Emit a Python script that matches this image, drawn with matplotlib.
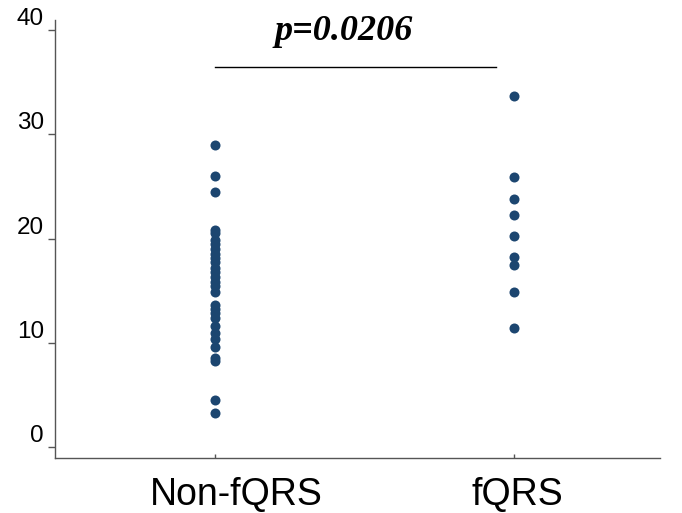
import numpy as np
import matplotlib.pyplot as plt

groups = ['Non-fQRS', 'fQRS']
non_fqrs = [29.0, 26.0, 24.5, 20.8, 20.5, 19.9, 19.5, 19.0, 18.5, 18.1, 17.7,
            17.2, 16.8, 16.3, 15.8, 15.4, 14.9, 13.6, 13.2, 12.8, 12.4, 11.6,
            10.9, 10.3, 9.6, 8.5, 8.2, 4.5, 3.2]
fqrs = [33.7, 25.9, 23.8, 22.3, 20.2, 18.2, 17.5, 14.9, 11.4]
p_text = 'p=0.0206'

fig = plt.figure(figsize=(6.82, 5.13), dpi=100)
ax = fig.add_axes([0.0806, 0.107, 0.887, 0.854])

dot = '#1c4670'
ax.scatter(np.full(len(non_fqrs), 1.0), non_fqrs, s=52, color=dot, zorder=3, linewidths=0)
ax.scatter(np.full(len(fqrs), 2.0), fqrs, s=52, color=dot, zorder=3, linewidths=0)

ax.set_xlim(0.463, 2.49)
ax.set_ylim(-1.1, 41.0)

# significance bar
ax.plot([1.0, 1.94], [36.5, 36.5], color='black', lw=1)
ax.text(1.43, 39.9, p_text, ha='center', va='center', fontsize=26,
        family='Liberation Serif', weight='bold', style='italic', clip_on=False)

for s in ['top', 'right']:
    ax.spines[s].set_visible(False)
for s in ['left', 'bottom']:
    ax.spines[s].set_color('#555555')
    ax.spines[s].set_linewidth(1)

ax.set_yticks([0, 10, 20, 30, 40])
ax.tick_params(axis='y', direction='out', length=5, width=1, color='#555555',
               pad=3, labelsize=17.5)
for lab in ax.get_yticklabels():
    lab.set_family('Liberation Sans')
    lab.set_verticalalignment('bottom')

ax.set_xticks([1, 2])
ax.set_xticklabels([])
ax.tick_params(axis='x', direction='in', length=3, width=1, color='#555555')
for xpos, name in zip([1.07, 2.013], groups):
    ax.text(xpos, -0.085, name, transform=ax.get_xaxis_transform(), ha='center',
            va='center', fontsize=27, family='Liberation Sans')

fig.savefig('out.png', dpi=100)
